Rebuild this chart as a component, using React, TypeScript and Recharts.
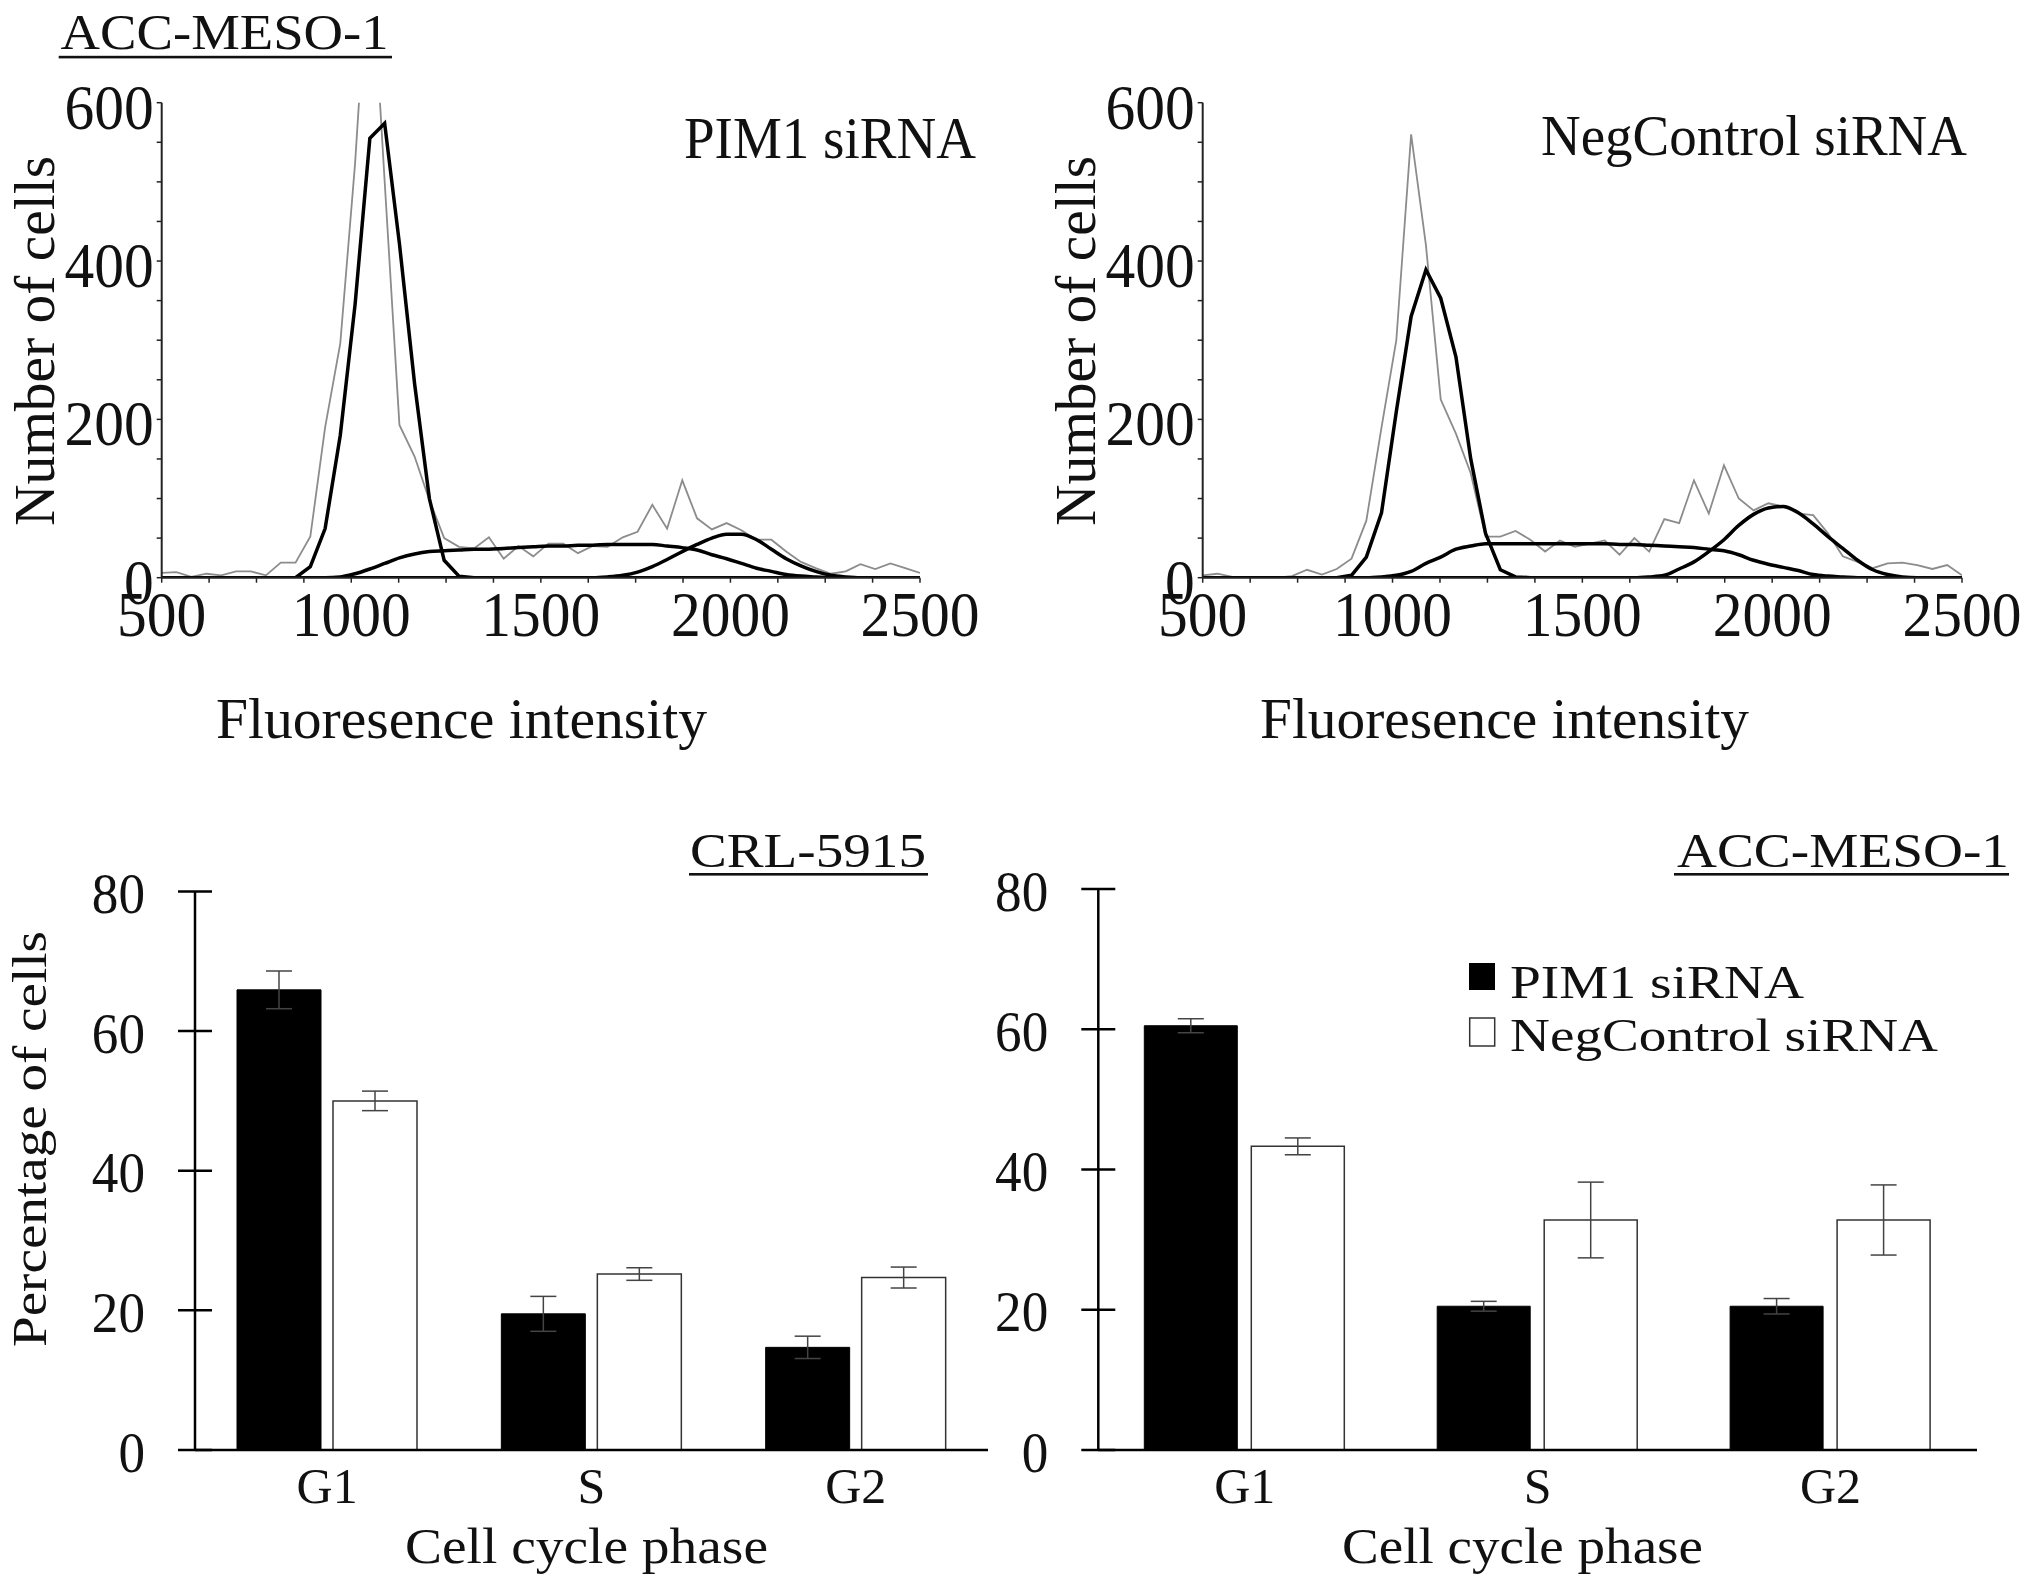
import { LineChart, Line, XAxis, YAxis, BarChart, Bar, ErrorBar } from 'recharts';

const FONT = '"Liberation Serif", "Times New Roman", serif';

// histogram bin centres (fluorescence intensity)
const binCenters = [
  500, 539, 578, 618, 657, 696, 735, 775, 814, 853, 892, 931, 971, 1010, 1049, 1088, 1127, 1167,
  1206, 1245, 1284, 1324, 1363, 1402, 1441, 1480, 1520, 1559, 1598, 1637, 1676, 1716, 1755, 1794,
  1833, 1873, 1912, 1951, 1990, 2029, 2069, 2108, 2147, 2186, 2225, 2265, 2304, 2343, 2382, 2422,
  2461, 2500,
];

// PIM1 siRNA: raw counts + fitted G1 / S / G2 components
const pimRaw = [
  6, 7, 1, 5, 3, 8, 8, 3, 19, 19, 52, 190, 296, 523, 816, 501, 193, 153, 98, 50, 39, 37, 51, 24, 40,
  27, 43, 43, 31, 40, 39, 51, 58, 92, 62, 123, 75, 61, 69, 60, 48, 48, 33, 20, 12, 5, 8, 17, 11, 18,
  12, 6,
];
const pimG1 = [
  0, 0, 0, 0, 0, 0, 0, 0, 0, 0, 14, 62, 180, 345, 555, 574, 422, 245, 100, 22, 2, 0, 0, 0, 0, 0, 0,
  0, 0, 0, 0, 0, 0, 0, 0, 0, 0, 0, 0, 0, 0, 0, 0, 0, 0, 0, 0, 0, 0, 0, 0, 0,
];
const pimS = [
  0, 0, 0, 0, 0, 0, 0, 0, 0, 0, 0, 0, 1, 5, 11, 18, 25, 30, 33, 34, 35, 36, 36, 37, 38, 39, 40, 40,
  41, 41, 42, 42, 42, 42, 40, 38, 35, 29, 24, 18, 12, 8, 4, 2, 1, 0, 0, 0, 0, 0, 0, 0,
];
const pimG2 = [
  0, 0, 0, 0, 0, 0, 0, 0, 0, 0, 0, 0, 0, 0, 0, 0, 0, 0, 0, 0, 0, 0, 0, 0, 0, 0, 0, 0, 0, 0, 1, 3, 7,
  14, 23, 33, 42, 50, 55, 55, 48, 36, 24, 15, 8, 3, 1, 0, 0, 0, 0, 0,
];

// NegControl siRNA
const negRaw = [
  3, 5, 1, 0, 0, 0, 2, 10, 4, 11, 24, 72, 190, 300, 560, 420, 225, 182, 132, 52, 52, 59, 48, 33, 47,
  39, 43, 47, 29, 50, 33, 74, 69, 123, 81, 142, 100, 85, 94, 90, 81, 79, 56, 27, 20, 12, 18, 19, 16,
  11, 16, 3,
];
const negG1 = [
  0, 0, 0, 0, 0, 0, 0, 0, 0, 0, 3, 26, 82, 210, 330, 389, 353, 279, 150, 56, 10, 1, 0, 0, 0, 0, 0, 0,
  0, 0, 0, 0, 0, 0, 0, 0, 0, 0, 0, 0, 0, 0, 0, 0, 0, 0, 0, 0, 0, 0, 0, 0,
];
const negS = [
  0, 0, 0, 0, 0, 0, 0, 0, 0, 0, 0, 0, 1, 3, 8, 18, 26, 36, 40, 43, 43, 43, 43, 43, 43, 43, 43, 43, 42,
  42, 41, 40, 39, 38, 36, 34, 29, 22, 17, 13, 9, 4, 2, 1, 0, 0, 0, 0, 0, 0, 0, 0,
];
const negG2 = [
  0, 0, 0, 0, 0, 0, 0, 0, 0, 0, 0, 0, 0, 0, 0, 0, 0, 0, 0, 0, 0, 0, 0, 0, 0, 0, 0, 0, 0, 0, 1, 3, 11,
  20, 33, 48, 66, 80, 88, 90, 82, 68, 52, 37, 22, 10, 4, 1, 0, 0, 0, 0,
];

const histXTicks = [500, 625, 750, 875, 1000, 1125, 1250, 1375, 1500, 1625, 1750, 1875, 2000, 2125, 2250, 2375, 2500];
const histXLabels = [500, 1000, 1500, 2000, 2500];
const histYTicks = [0, 50, 100, 150, 200, 250, 300, 350, 400, 450, 500, 550, 600];
const histYLabels = [0, 200, 400, 600];

// bar charts: % of cells per phase, mean and error
const phases = ['G1', 'S', 'G2'];
const crlPim = [65.9, 19.5, 14.7];
const crlPimErr = [2.7, 2.5, 1.6];
const crlNeg = [50.0, 25.2, 24.7];
const crlNegErr = [1.4, 0.9, 1.5];
const accPim = [60.5, 20.5, 20.5];
const accPimErr = [1.0, 0.7, 1.1];
const accNeg = [43.3, 32.8, 32.8];
const accNegErr = [1.2, 5.4, 5.0];
const barYTicks = [0, 20, 40, 60, 80];

const histRows = (raw: number[], g1: number[], s: number[], g2: number[]) =>
  binCenters.map((x, i) => ({ x, raw: raw[i], g1: g1[i], s: s[i], g2: g2[i] }));

const barRows = (pim: number[], pimErr: number[], neg: number[], negErr: number[]) =>
  phases.map((phase, i) => ({ phase, pim: pim[i], pimErr: pimErr[i], neg: neg[i], negErr: negErr[i] }));

const HistXTick = ({ x, y, payload }: any) =>
  histXLabels.includes(payload.value) ? (
    <text
      transform={`translate(${x},${y + 53}) scale(0.93,1)`}
      textAnchor="middle"
      fontSize={64}
      fontFamily={FONT}
      fill="#111"
    >
      {payload.value}
    </text>
  ) : (
    <g />
  );

const HistYTick = ({ x, y, payload }: any) =>
  histYLabels.includes(payload.value) ? (
    <text
      transform={`translate(${x},${y + 26}) scale(0.93,1)`}
      textAnchor="end"
      fontSize={64}
      fontFamily={FONT}
      fill="#111"
    >
      {payload.value}
    </text>
  ) : (
    <g />
  );

const BarXTick = ({ x, y, payload }: any) => (
  <text x={x} y={y + 53} textAnchor="middle" fontSize={50} fontFamily={FONT} fill="#111">
    {payload.value}
  </text>
);

// y ticks of the bar charts cross the axis, so the tick line is drawn here
const BarYTick = ({ y, payload, ax }: any) => (
  <g>
    <line x1={ax - 17} x2={ax + 17} y1={y} y2={y} stroke="#000" strokeWidth={2.5} />
    <text
      transform={`translate(${ax - 50},${y + 21.5}) scale(0.95,1)`}
      textAnchor="end"
      fontSize={56}
      fontFamily={FONT}
      fill="#111"
    >
      {payload.value}
    </text>
  </g>
);

const Histogram = ({ rows, left, width, mLeft, mRight }: any) => (
  <div style={{ position: 'absolute', left, top: 0 }}>
    <LineChart
      width={width}
      height={780}
      data={rows}
      margin={{ top: 102.7, right: mRight, bottom: 102.3, left: mLeft }}
    >
      <XAxis
        dataKey="x"
        type="number"
        domain={[500, 2500]}
        ticks={histXTicks}
        interval={0}
        allowDataOverflow
        height={100}
        tickSize={5}
        tickMargin={0}
        axisLine={{ stroke: '#222', strokeWidth: 2 }}
        tickLine={{ stroke: '#222', strokeWidth: 1.5 }}
        tick={<HistXTick />}
      />
      <YAxis
        type="number"
        domain={[0, 600]}
        ticks={histYTicks}
        interval={0}
        allowDataOverflow
        width={100}
        tickSize={5}
        tickMargin={3}
        axisLine={{ stroke: '#222', strokeWidth: 2 }}
        tickLine={{ stroke: '#222', strokeWidth: 1.5 }}
        tick={<HistYTick />}
      />
      <Line dataKey="raw" type="linear" stroke="#8c8c8c" strokeWidth={1.8} dot={false} isAnimationActive={false} />
      <Line dataKey="s" type="monotone" stroke="#000" strokeWidth={3.5} dot={false} isAnimationActive={false} />
      <Line dataKey="g2" type="monotone" stroke="#000" strokeWidth={3.5} dot={false} isAnimationActive={false} />
      <Line dataKey="g1" type="linear" stroke="#000" strokeWidth={3.5} dot={false} isAnimationActive={false} />
    </LineChart>
  </div>
);

const PhaseBars = ({ rows, left, width, yWidth, mLeft, mRight, mTop, barSize, barGap }: any) => (
  <div style={{ position: 'absolute', left, top: 800 }}>
    <BarChart
      width={width}
      height={792}
      data={rows}
      barSize={barSize}
      barGap={barGap}
      margin={{ top: mTop, right: mRight, bottom: 62, left: mLeft }}
    >
      <XAxis
        dataKey="phase"
        height={80}
        tickLine={false}
        tickSize={0}
        tickMargin={0}
        axisLine={{ stroke: '#000', strokeWidth: 2.5 }}
        tick={<BarXTick />}
      />
      <YAxis
        type="number"
        domain={[0, 80]}
        ticks={barYTicks}
        interval={0}
        width={yWidth}
        tickLine={false}
        tickSize={0}
        tickMargin={0}
        axisLine={{ stroke: '#000', strokeWidth: 2.5 }}
        tick={<BarYTick ax={mLeft + yWidth} />}
      />
      <Bar dataKey="pim" fill="#000" stroke="#000" strokeWidth={1} isAnimationActive={false}>
        <ErrorBar dataKey="pimErr" width={13} stroke="#444" strokeWidth={1.5} />
      </Bar>
      <Bar dataKey="neg" fill="#fff" stroke="#333" strokeWidth={1.5} isAnimationActive={false}>
        <ErrorBar dataKey="negErr" width={13} stroke="#444" strokeWidth={1.5} />
      </Bar>
    </BarChart>
  </div>
);

const T = ({ x, y, size, len, children, rotate }: any) => (
  <text
    x={rotate ? 0 : x}
    y={rotate ? 0 : y}
    transform={rotate ? `translate(${x},${y}) rotate(-90)` : undefined}
    textAnchor={rotate ? 'middle' : 'start'}
    fontSize={size}
    fontFamily={FONT}
    fill="#111"
    textLength={len}
    lengthAdjust="spacingAndGlyphs"
  >
    {children}
  </text>
);

export default function App() {
  return (
    <div style={{ position: 'absolute', left: 0, top: 0, width: 2031, height: 1592, background: '#fff' }}>
      <Histogram rows={histRows(pimRaw, pimG1, pimS, pimG2)} left={0} width={1000} mLeft={61.7} mRight={80} />
      <Histogram rows={histRows(negRaw, negG1, negS, negG2)} left={1000} width={1031} mLeft={102.7} mRight={69} />
      <PhaseBars
        rows={barRows(crlPim, crlPimErr, crlNeg, crlNegErr)}
        left={0}
        width={1000}
        yWidth={100}
        mLeft={95}
        mRight={12}
        mTop={91.4}
        barSize={84}
        barGap={12}
      />
      <PhaseBars
        rows={barRows(accPim, accPimErr, accNeg, accNegErr)}
        left={940}
        width={1091}
        yWidth={150}
        mLeft={8.3}
        mRight={54}
        mTop={89}
        barSize={93}
        barGap={14}
      />
      <svg width={2031} height={1592} style={{ position: 'absolute', left: 0, top: 0, pointerEvents: 'none' }}>
        {/* top panels */}
        <T x={60.6} y={49.4} size={51} len={328}>ACC-MESO-1</T>
        <rect x={58.7} y={55.8} width={333.3} height={2.6} fill="#111" />
        <T x={684} y={158} size={59} len={292}>PIM1 siRNA</T>
        <T x={1541} y={155} size={57} len={426}>NegControl siRNA</T>
        <T x={54} y={341} size={58} len={370} rotate>Number of cells</T>
        <T x={1094.6} y={341} size={58} len={370} rotate>Number of cells</T>
        <T x={216} y={738} size={57} len={491}>Fluoresence intensity</T>
        <T x={1260} y={738} size={57} len={489}>Fluoresence intensity</T>
        {/* bottom panels */}
        <T x={690} y={867} size={48} len={236}>CRL-5915</T>
        <rect x={689} y={873} width={239} height={2.6} fill="#111" />
        <T x={1677} y={867} size={48} len={332}>ACC-MESO-1</T>
        <rect x={1674} y={873} width={335} height={2.6} fill="#111" />
        <T x={46} y={1139} size={48} len={416} rotate>Percentage of cells</T>
        <T x={405} y={1562.5} size={50} len={363}>Cell cycle phase</T>
        <T x={1342} y={1562.5} size={50} len={361}>Cell cycle phase</T>
        {/* legend */}
        <rect x={1469} y={963} width={26} height={27} fill="#000" />
        <rect x={1469.7} y={1018} width={25} height={28} fill="#fff" stroke="#333" strokeWidth={1.5} />
        <T x={1510} y={998} size={46} len={294}>PIM1 siRNA</T>
        <T x={1510} y={1051} size={46} len={428}>NegControl siRNA</T>
      </svg>
    </div>
  );
}
